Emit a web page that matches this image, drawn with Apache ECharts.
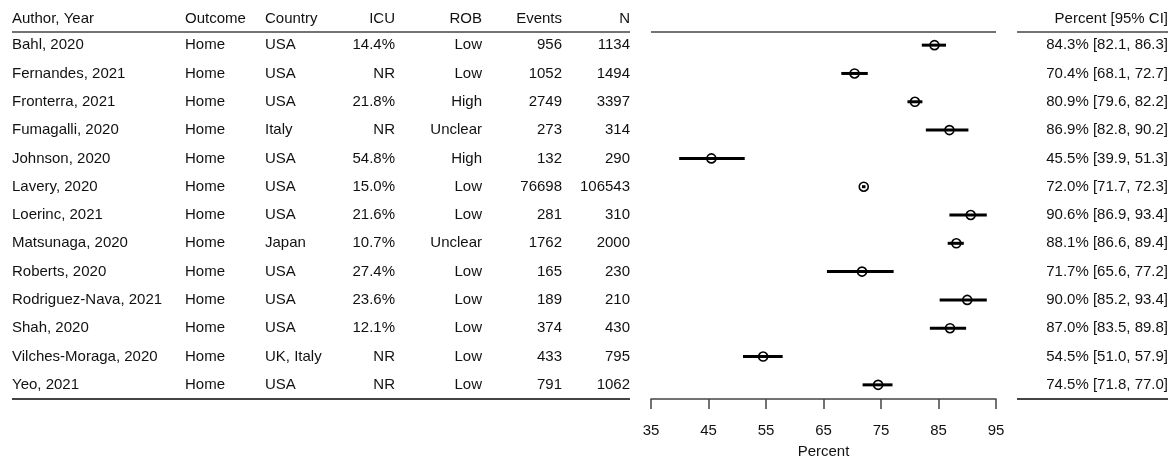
<!DOCTYPE html>
<html>
<head>
<meta charset="utf-8">
<script src="https://cdn.jsdelivr.net/npm/echarts@6/dist/echarts.min.js"></script>
<style>html,body{margin:0;padding:0;background:#fff}#c{width:1172px;height:462px}</style>
</head>
<body>
<div id="c"></div>
<script>
const authors = ['Bahl, 2020','Fernandes, 2021','Fronterra, 2021','Fumagalli, 2020','Johnson, 2020','Lavery, 2020','Loerinc, 2021','Matsunaga, 2020','Roberts, 2020','Rodriguez-Nava, 2021','Shah, 2020','Vilches-Moraga, 2020','Yeo, 2021'];
const outcomes = ['Home','Home','Home','Home','Home','Home','Home','Home','Home','Home','Home','Home','Home'];
const countries = ['USA','USA','USA','Italy','USA','USA','USA','Japan','USA','USA','USA','UK, Italy','USA'];
const icu = ['14.4%','NR','21.8%','NR','54.8%','15.0%','21.6%','10.7%','27.4%','23.6%','12.1%','NR','NR'];
const rob = ['Low','Low','High','Unclear','High','Low','Low','Unclear','Low','Low','Low','Low','Low'];
const events = [956,1052,2749,273,132,76698,281,1762,165,189,374,433,791];
const totals = [1134,1494,3397,314,290,106543,310,2000,230,210,430,795,1062];
const estimates = [84.3,70.4,80.9,86.9,45.5,72.0,90.6,88.1,71.7,90.0,87.0,54.5,74.5];
const lower = [82.1,68.1,79.6,82.8,39.9,71.7,86.9,86.6,65.6,85.2,83.5,51.0,71.8];
const upper = [86.3,72.7,82.2,90.2,51.3,72.3,93.4,89.4,77.2,93.4,89.8,57.9,77.0];
const headers = ['Author, Year','Outcome','Country','ICU','ROB','Events','N','Percent [95% CI]'];
const xTicks = [35,45,55,65,75,85,95];
const xName = 'Percent';

const ciText = estimates.map((e,i)=>e.toFixed(1)+'% ['+lower[i].toFixed(1)+', '+upper[i].toFixed(1)+']');

const FONT = "'Liberation Sans', Arial, Helvetica, sans-serif";
const TXT = '#111';
const FS = 15;

// layout constants (pixels)
const G_LEFT = 651, G_WIDTH = 345, G_TOP = 31, G_HEIGHT = 368;
const colDefs = [
  {data: authors, x: 12, align: 'left'},
  {data: outcomes, x: 185, align: 'left'},
  {data: countries, x: 265, align: 'left'},
  {data: icu, x: 395, align: 'right'},
  {data: rob, x: 482, align: 'right'},
  {data: events.map(String), x: 562, align: 'right'},
  {data: totals.map(String), x: 630, align: 'right'},
  {data: ciText, x: 1168, align: 'right', side: 'right'}
];

const yAxes = [{
  type: 'category', data: authors, inverse: true, gridIndex: 0,
  show: false, boundaryGap: true
}];
colDefs.forEach(c => {
  const right = c.side === 'right';
  yAxes.push({
    type: 'category', data: c.data, inverse: true, gridIndex: 0,
    position: right ? 'right' : 'left',
    offset: right ? (c.x - (G_LEFT + G_WIDTH)) : (G_LEFT - c.x),
    axisLine: {show: false}, axisTick: {show: false}, splitLine: {show: false},
    axisLabel: {interval: 0, margin: 0, align: c.align, fontSize: FS, fontFamily: FONT, color: TXT, padding: [2, 0, 0, 0]}
  });
});

const graphics = [];
const headerY = 19;
headers.forEach((h, i) => {
  graphics.push({type: 'text', silent: true, style: {
    text: h, x: colDefs[i].x, y: headerY, align: colDefs[i].align, verticalAlign: 'middle',
    font: FS + 'px ' + FONT, fill: TXT
  }});
});
const lineStyle = {stroke: '#444', lineWidth: 1.5};
const segs = [[12, 630], [651, 996], [1017, 1168]];
segs.forEach(s => graphics.push({type: 'line', silent: true, shape: {x1: s[0], y1: 32, x2: s[1], y2: 32}, style: lineStyle}));
[[12, 630], [1017, 1168]].forEach(s => graphics.push({type: 'line', silent: true, shape: {x1: s[0], y1: 399, x2: s[1], y2: 399}, style: {stroke: '#444', lineWidth: 2}}));

const chart = echarts.init(document.getElementById('c'), null, {renderer: 'canvas'});
chart.setOption({
  animation: false,
  backgroundColor: '#fff',
  grid: {left: G_LEFT, width: G_WIDTH, top: G_TOP, height: G_HEIGHT, containLabel: false, outerBoundsMode: 'none'},
  xAxis: {
    type: 'value', min: xTicks[0], max: xTicks[xTicks.length-1], interval: 10,
    name: xName, nameLocation: 'middle', nameGap: 45,
    nameTextStyle: {fontSize: FS, fontFamily: FONT, color: TXT},
    axisLine: {show: true, lineStyle: {color: '#444', width: 1.5}},
    axisTick: {show: true, length: 10, lineStyle: {color: '#444', width: 1.5}},
    axisLabel: {margin: 24, fontSize: FS, fontFamily: FONT, color: TXT},
    splitLine: {show: false}
  },
  yAxis: yAxes,
  graphic: graphics,
  series: [
    {
      type: 'custom', xAxisIndex: 0, yAxisIndex: 0,
      data: authors.map((a, i) => [lower[i], upper[i], i]),
      encode: {x: [0, 1], y: 2},
      renderItem: function (params, api) {
        const p1 = api.coord([api.value(0), api.value(2)]);
        const p2 = api.coord([api.value(1), api.value(2)]);
        return {type: 'line', shape: {x1: p1[0], y1: p1[1], x2: p2[0], y2: p2[1]}, style: {stroke: '#000', lineWidth: 3}};
      }
    },
    {
      type: 'scatter', xAxisIndex: 0, yAxisIndex: 0,
      data: authors.map((a, i) => [estimates[i], i]),
      symbol: 'circle', symbolSize: 9,
      itemStyle: {color: 'rgba(0,0,0,0)', borderColor: '#000', borderWidth: 1.6, opacity: 1},
      z: 3
    }
  ]
});
</script>
</body>
</html>
